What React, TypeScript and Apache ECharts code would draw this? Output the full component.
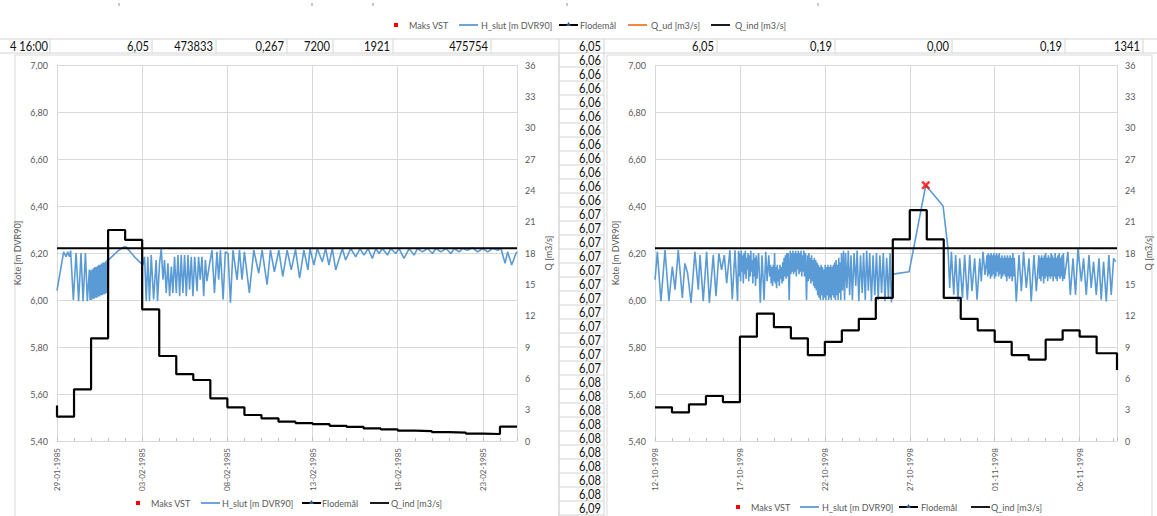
import React, { useEffect, useRef } from "react";
import * as echarts from "echarts";

// ---------- DATA ----------
const LEFT_DATES = ["29-01-1985", "03-02-1985", "08-02-1985", "13-02-1985", "18-02-1985", "23-02-1985"];
const RIGHT_DATES = ["12-10-1998", "17-10-1998", "22-10-1998", "27-10-1998", "01-11-1998", "06-11-1998"];

const FLODEMAAL = 6.22;

// daily Q_ind [m3/s], day 0 = first date
const LEFT_Q_START = 3.4;
const LEFT_Q = [2.33, 4.95, 9.83, 20.2, 19.25, 12.6, 8.14, 6.4, 5.84, 4.09, 3.22, 2.49, 2.17, 1.85, 1.72, 1.62, 1.45, 1.35, 1.2, 1.12, 1.0, 0.95, 0.85, 0.8, 0.7, 0.67, 1.37];
const RIGHT_Q = [3.22, 2.74, 3.51, 4.31, 3.73, 9.99, 12.2, 10.9, 9.83, 8.23, 9.5, 10.6, 11.7, 13.7, 19.3, 22.1, 19.3, 13.7, 11.7, 10.6, 9.5, 8.23, 7.8, 9.7, 10.6, 10.0, 8.4];
const RIGHT_Q_END = [27.2, 6.8];

const RIGHT_MAKS = [[15.94, 6.488]];

// H_slut [m DVR90] as [day, level]
const LEFT_H = [
  [0, 6.04], [0.39, 6.205], [0.53, 6.184], [0.63, 6.205], [0.73, 6.184], [0.8, 6.21], [0.96, 6.0], [1.12, 6.2], [1.27, 5.995], [1.41, 6.2], [1.53, 5.995], [1.67, 6.2], [1.78, 5.995], [1.9, 6.13],
  [1.94, 6.0], [1.98, 6.125], [2.02, 6.0], [2.06, 6.13], [2.1, 6.005], [2.14, 6.135], [2.18, 6.005], [2.22, 6.14], [2.26, 6.01], [2.3, 6.14], [2.34, 6.01], [2.38, 6.145], [2.42, 6.015], [2.46, 6.15], [2.5, 6.015], [2.54, 6.15], [2.58, 6.02], [2.62, 6.155], [2.66, 6.02], [2.7, 6.16], [2.74, 6.025], [2.78, 6.16], [2.82, 6.025], [2.86, 6.165], [2.9, 6.03], [2.94, 6.17], [2.98, 6.035], [3.02, 6.17],
  [3.3, 6.19], [3.6, 6.21], [3.9, 6.225], [4.05, 6.226], [4.3, 6.205], [4.6, 6.18], [4.95, 6.155], [5.05, 6.15],
  [5.14, 6.184], [5.24, 5.995], [5.33, 6.184], [5.43, 5.995], [5.53, 6.191], [5.67, 6.002], [5.82, 6.17], [5.9, 5.995], [6.02, 6.156], [6.12, 6.219], [6.22, 6.086], [6.31, 6.17], [6.41, 6.03], [6.51, 6.156], [6.61, 6.016], [6.71, 6.142], [6.8, 6.03], [6.9, 6.184], [7.0, 6.03], [7.1, 6.191], [7.2, 6.016], [7.29, 6.191], [7.39, 6.03], [7.49, 6.191], [7.59, 6.016], [7.69, 6.191], [7.78, 6.044], [7.88, 6.184], [7.98, 6.016], [8.08, 6.184], [8.22, 6.037], [8.31, 6.184], [8.41, 6.086], [8.51, 6.184], [8.61, 6.016], [8.71, 6.17], [8.8, 6.08], [8.96, 6.156], [9.1, 6.212], [9.24, 6.03], [9.39, 6.205], [9.49, 6.086], [9.59, 6.212], [9.75, 6.002], [9.88, 6.205], [10.04, 6.198], [10.18, 5.988], [10.33, 6.212], [10.57, 6.086], [10.71, 6.212], [10.86, 6.086], [11.0, 6.205], [11.29, 6.03], [11.55, 6.212], [11.84, 6.114], [12.04, 6.212], [12.33, 6.065], [12.53, 6.212], [12.76, 6.12], [13.02, 6.212], [13.25, 6.1], [13.51, 6.212], [13.75, 6.128], [14.0, 6.215], [14.24, 6.093], [14.49, 6.212], [14.73, 6.128],
  [14.85, 6.219], [15.08, 6.149], [15.28, 6.219], [15.57, 6.163], [15.77, 6.219], [15.96, 6.149], [16.16, 6.219], [16.36, 6.128], [16.75, 6.219], [16.94, 6.17], [17.24, 6.219], [17.53, 6.184], [17.79, 6.219], [18.02, 6.191], [18.26, 6.219], [18.51, 6.177], [18.71, 6.219], [18.9, 6.198], [19.1, 6.219], [19.4, 6.191], [19.59, 6.219], [19.88, 6.198], [20.08, 6.219], [20.37, 6.177], [20.67, 6.219], [20.96, 6.191], [21.16, 6.219], [21.45, 6.205], [21.75, 6.219], [22.04, 6.198], [22.24, 6.219], [22.53, 6.205], [22.83, 6.219], [23.12, 6.198], [23.32, 6.219], [23.61, 6.205], [23.81, 6.219], [24.1, 6.212], [24.39, 6.222], [24.69, 6.205], [24.98, 6.219], [25.28, 6.205], [25.57, 6.219], [25.87, 6.212], [26.06, 6.219], [26.3, 6.156], [26.45, 6.205], [26.69, 6.149], [26.94, 6.198], [27.0, 6.205],
];

const RIGHT_H = [
  [0, 6.086], [0.14, 6.205], [0.35, 5.995], [0.59, 6.212], [0.82, 5.995], [1.02, 6.142], [1.18, 6.044], [1.37, 6.212], [1.61, 6.009], [1.76, 6.156], [1.92, 6.114], [2.12, 5.988], [2.35, 6.205], [2.55, 6.044], [2.65, 6.191], [2.84, 5.995], [3.04, 6.205], [3.2, 5.988], [3.43, 6.191], [3.59, 6.016], [3.76, 6.198], [3.92, 6.128], [4.08, 6.191], [4.22, 6.072], [4.41, 6.212], [4.55, 6.002], [4.71, 6.212], [4.86, 5.995],
  [4.92, 6.21], [4.96, 6.1], [5.0, 6.2], [5.04, 6.08], [5.08, 6.21], [5.12, 6.12], [5.16, 6.19], [5.2, 6.07], [5.24, 6.2], [5.28, 6.11], [5.32, 6.21], [5.36, 6.09], [5.4, 6.18], [5.44, 6.13], [5.48, 6.2], [5.52, 6.08], [5.56, 6.19], [5.6, 6.1], [5.64, 6.21], [5.68, 6.12], [5.72, 6.17], [5.76, 6.07], [5.8, 6.2], [5.84, 6.1], [5.88, 6.18], [5.92, 6.06], [5.96, 6.19], [6.0, 6.09],
  [6.1, 6.2], [6.2, 5.988], [6.3, 6.19], [6.42, 6.0], [6.52, 6.205], [6.6, 6.08], [6.7, 6.19],
  [6.76, 6.1], [6.8, 6.15], [6.84, 6.07], [6.88, 6.14], [6.92, 6.06], [6.96, 6.15], [7.0, 6.08], [7.04, 6.2], [7.08, 6.07], [7.12, 6.14], [7.16, 6.05], [7.2, 6.15], [7.24, 6.08], [7.28, 6.13], [7.32, 6.06], [7.36, 6.15], [7.4, 6.09], [7.44, 6.14], [7.48, 6.07], [7.52, 6.16], [7.56, 6.08], [7.6, 6.18],
  [7.64, 6.1], [7.68, 6.19], [7.72, 6.09], [7.76, 6.2], [7.8, 6.1], [7.84, 6.2], [7.9, 6.0], [7.96, 6.21], [8.0, 6.11], [8.04, 6.2], [8.08, 6.12], [8.12, 6.21], [8.16, 6.11], [8.2, 6.2], [8.24, 6.12], [8.28, 6.21], [8.32, 6.1], [8.36, 6.2], [8.4, 6.13], [8.44, 6.21], [8.48, 6.11], [8.52, 6.2], [8.56, 6.12], [8.6, 6.21], [8.64, 6.1], [8.68, 6.19], [8.72, 6.12], [8.76, 6.21], [8.8, 6.1], [8.86, 6.2], [8.92, 6.0], [8.98, 6.19], [9.02, 6.08], [9.06, 6.2], [9.1, 6.09], [9.14, 6.18], [9.18, 6.07], [9.22, 6.19], [9.26, 6.08], [9.3, 6.17], [9.34, 6.06], [9.38, 6.18], [9.42, 6.05], [9.46, 6.17], [9.5, 6.04], [9.54, 6.16],
  [9.58, 6.02], [9.62, 6.15], [9.66, 6.01], [9.7, 6.14], [9.74, 6.0], [9.78, 6.15], [9.82, 6.02], [9.86, 6.14], [9.9, 6.0], [9.94, 6.13], [9.98, 6.01], [10.02, 6.15], [10.06, 6.0], [10.1, 6.14], [10.14, 6.02], [10.18, 6.15], [10.22, 6.0], [10.26, 6.14], [10.3, 6.01], [10.34, 6.15], [10.38, 6.0], [10.42, 6.14], [10.46, 6.02], [10.5, 6.15], [10.54, 6.01], [10.58, 6.16], [10.62, 6.0], [10.66, 6.17], [10.7, 6.02], [10.74, 6.15], [10.78, 6.0], [10.82, 6.18], [10.86, 6.03], [10.9, 6.16], [10.94, 6.0], [10.98, 6.2], [11.04, 6.04], [11.1, 6.21], [11.16, 6.0], [11.22, 6.2], [11.3, 6.05], [11.38, 6.21], [11.46, 6.02], [11.54, 6.19],
  [11.62, 6.0], [11.72, 6.2], [11.82, 6.06], [11.9, 6.21], [12.0, 5.995], [12.1, 6.19], [12.2, 6.03], [12.28, 6.2], [12.38, 6.0], [12.46, 6.21], [12.56, 6.04], [12.64, 6.2], [12.74, 5.995], [12.84, 6.19], [12.94, 6.02], [13.04, 6.2], [13.14, 6.0], [13.24, 6.19], [13.34, 6.03], [13.44, 6.2], [13.54, 5.995], [13.64, 6.18], [13.74, 6.01], [13.84, 6.2], [13.92, 5.99],
  [14.02, 6.11], [14.96, 6.12], [15.94, 6.488], [16.96, 6.4],
  [17.25, 6.22], [17.35, 6.051], [17.45, 6.205], [17.59, 6.022], [17.7, 6.191], [17.84, 5.994], [17.94, 6.177], [18.1, 6.008], [18.23, 6.191], [18.39, 6.001], [18.53, 6.191], [18.66, 6.037], [18.82, 6.177], [18.96, 6.001], [19.12, 6.177], [19.21, 6.079], [19.31, 6.205], [19.43, 6.107], [19.55, 6.191],
  [19.59, 6.1], [19.63, 6.2], [19.67, 6.11], [19.71, 6.19], [19.75, 6.09], [19.79, 6.2], [19.83, 6.1], [19.87, 6.19], [19.91, 6.11], [19.95, 6.2], [19.99, 6.09], [20.03, 6.19], [20.07, 6.1], [20.11, 6.2], [20.15, 6.12], [20.19, 6.19], [20.23, 6.1], [20.27, 6.2], [20.31, 6.11], [20.35, 6.18], [20.39, 6.09], [20.43, 6.19], [20.47, 6.1], [20.51, 6.18], [20.55, 6.11], [20.59, 6.19], [20.63, 6.1], [20.67, 6.18], [20.71, 6.08], [20.75, 6.19], [20.79, 6.1], [20.83, 6.18], [20.87, 6.09], [20.91, 6.19], [20.95, 6.1], [20.99, 6.18], [21.03, 6.08], [21.07, 6.2], [21.11, 6.1], [21.15, 6.18],
  [21.27, 5.994], [21.43, 6.191], [21.57, 6.037], [21.7, 6.205], [21.86, 6.051], [22.02, 6.177], [22.15, 5.994], [22.31, 6.191], [22.45, 6.037],
  [22.6, 6.19], [22.64, 6.09], [22.68, 6.18], [22.72, 6.08], [22.76, 6.19], [22.8, 6.1], [22.84, 6.18], [22.88, 6.07], [22.92, 6.19], [22.96, 6.09], [23.0, 6.2], [23.04, 6.1], [23.08, 6.18], [23.12, 6.08], [23.16, 6.19], [23.2, 6.1], [23.24, 6.18], [23.28, 6.09], [23.32, 6.2], [23.36, 6.1], [23.4, 6.19], [23.44, 6.08], [23.48, 6.18], [23.52, 6.1], [23.56, 6.2], [23.6, 6.09], [23.64, 6.18], [23.68, 6.08], [23.72, 6.19], [23.76, 6.1], [23.8, 6.2], [23.84, 6.09], [23.88, 6.18], [23.92, 6.1], [23.96, 6.19], [24.0, 6.08], [24.04, 6.2], [24.1, 6.09],
  [24.31, 6.205], [24.45, 6.022], [24.61, 6.177], [24.76, 6.022], [24.9, 6.219], [25.1, 6.079], [25.23, 6.177], [25.39, 6.022], [25.55, 6.191], [25.68, 6.051], [25.82, 6.163], [25.98, 6.022], [26.14, 6.177], [26.27, 6.001], [26.41, 6.163], [26.57, 5.994], [26.72, 6.191], [26.86, 6.022], [27.0, 6.177], [27.12, 6.163],
];

// spreadsheet texts
const TOP_ROW_VALUES = ["4 16:00", "6,05", "473833", "0,267", "7200", "1921", "475754", "6,05", "6,05", "0,19", "0,00", "0,19", "1341"];
const MID_COLUMN_VALUES = [
  "6,06", "6,06", "6,06", "6,06", "6,06", "6,06", "6,06", "6,06", "6,06", "6,06", "6,06",
  "6,07", "6,07", "6,07", "6,07", "6,07", "6,07", "6,07", "6,07", "6,07", "6,07", "6,07", "6,07",
  "6,08", "6,08", "6,08", "6,08", "6,08", "6,08", "6,08", "6,08", "6,08",
  "6,09",
];

// ---------- LAYOUT ----------
const TOP_ROW_RIGHT = [48, 149, 213, 284, 330, 390, 488, 601, 714, 832, 949, 1062, 1140];
const TOP_ROW_BORDERS = [50, 152, 216, 287, 333, 393, 491, 559, 604, 717, 835, 952, 1065, 1143];
const ROW_PITCH = 14;

const BLUE = "#5B9BD5";
const ORANGE = "#ED7D31";
const GRID = "#d9d9d9";
const LABEL = "#595959";
const FONT = "Lato, 'Open Sans', sans-serif";
const CELL_FONT = "13px Lato, 'Liberation Sans', sans-serif";

const X_MARK = "path://M2,0 L5,3 L8,0 L10,2 L7,5 L10,8 L8,10 L5,7 L2,10 L0,8 L3,5 L0,2 Z";

function stepData(q: number[], start: number | null, end: number[] | null) {
  const d: number[][] = [];
  if (start !== null) d.push([0, start]);
  q.forEach((v, i) => d.push([i, v]));
  if (end) {
    d.push([end[0] - 0.05, q[q.length - 1]]);
    d.push(end);
  } else d.push([q.length, q[q.length - 1]]);
  return d;
}

function cellText(text: string, right: number, y: number) {
  return {
    type: "text", x: right, y, scaleX: 0.86,
    style: { text, x: 0, y: 0, fill: "#111", font: CELL_FONT, align: "right", verticalAlign: "middle" },
  };
}

function legend(y: number, items: any[]) {
  const els: any[] = [];
  items.forEach((it) => {
    if (it.kind === "sq") {
      els.push({ type: "rect", shape: { x: it.x - 2, y: y - 2, width: 4, height: 4 }, style: { fill: "#ff0000" } });
    } else {
      els.push({ type: "line", shape: { x1: it.x, y1: y, x2: it.x + 19, y2: y }, style: { stroke: it.color, lineWidth: it.kind === "flod" ? 2 : 1.8 } });
      if (it.kind === "flod") {
        els.push({ type: "polygon", shape: { points: [[it.x + 7, y + 1], [it.x + 9.5, y - 3], [it.x + 12, y + 1]] }, style: { fill: "#2f5597" } });
      }
    }
    els.push({ type: "text", style: { text: it.text, x: it.tx, y, fill: LABEL, font: `9px ${FONT}`, align: "left", verticalAlign: "middle" } });
  });
  return els;
}

function xAxis(gridIndex: number, max: number, dates: string[]) {
  return {
    type: "value", gridIndex, min: 0, max, interval: 5,
    axisLine: { show: true, lineStyle: { color: GRID } },
    axisTick: { show: true, inside: true, length: 4, lineStyle: { color: "#bfbfbf" } },
    minorTick: { show: true, splitNumber: 5, length: 3, lineStyle: { color: "#bfbfbf" } },
    splitLine: { show: true, lineStyle: { color: GRID, width: 1 } },
    axisLabel: {
      rotate: 90, fontSize: 8, color: LABEL, fontFamily: FONT, margin: 7,
      formatter: (v: number) => {
        const i = Math.round(v / 5);
        return Math.abs(v - i * 5) < 1e-6 && dates[i] ? dates[i] : "";
      },
    },
  };
}

function yAxes(gridIndex: number) {
  return [
    {
      type: "value", gridIndex, min: 5.4, max: 7.0, interval: 0.2, position: "left",
      name: "Kote [m DVR90]", nameLocation: "middle", nameGap: 35, nameRotate: 90,
      nameTextStyle: { fontSize: 9, color: LABEL, fontFamily: FONT },
      axisLine: { show: false }, axisTick: { show: false },
      splitLine: { show: true, lineStyle: { color: GRID } },
      axisLabel: { fontSize: 9, color: LABEL, fontFamily: FONT, margin: 9, formatter: (v: number) => v.toFixed(2).replace(".", ",") },
    },
    {
      type: "value", gridIndex, min: 0, max: 36, interval: 3, position: "right",
      name: "Q [m3/s]", nameLocation: "middle", nameGap: 27, nameRotate: 90,
      nameTextStyle: { fontSize: 9, color: LABEL, fontFamily: FONT },
      axisLine: { show: false }, axisTick: { show: false }, splitLine: { show: false },
      axisLabel: { fontSize: 9, color: LABEL, fontFamily: FONT, margin: 8 },
    },
  ];
}

function buildGraphic() {
  const g: any[] = [];
  // chart frames
  g.push({ type: "rect", z: -10, shape: { x: 15, y: 55, width: 544, height: 480 }, style: { fill: "#fff", stroke: GRID, lineWidth: 1 } });
  g.push({ type: "rect", z: -10, shape: { x: 607, y: 55, width: 545, height: 480 }, style: { fill: "#fff", stroke: GRID, lineWidth: 1 } });
  // top row
  g.push({ type: "line", z: -5, shape: { x1: 0, y1: 39, x2: 1157, y2: 39 }, style: { stroke: "#d4d4d4", lineWidth: 1 } });
  g.push({ type: "line", z: -5, shape: { x1: 0, y1: 53, x2: 1157, y2: 53 }, style: { stroke: "#d4d4d4", lineWidth: 1 } });
  TOP_ROW_BORDERS.forEach((x) => g.push({ type: "line", z: -5, shape: { x1: x, y1: 39, x2: x, y2: 53 }, style: { stroke: "#d4d4d4", lineWidth: 1 } }));
  TOP_ROW_VALUES.forEach((t, i) => g.push(cellText(t, TOP_ROW_RIGHT[i], 46.5)));
  // middle column
  g.push({ type: "line", z: -5, shape: { x1: 559, y1: 53, x2: 559, y2: 516 }, style: { stroke: "#d4d4d4", lineWidth: 1 } });
  g.push({ type: "line", z: -5, shape: { x1: 604, y1: 53, x2: 604, y2: 516 }, style: { stroke: "#d4d4d4", lineWidth: 1 } });
  MID_COLUMN_VALUES.forEach((t, i) => {
    const top = 53 + i * ROW_PITCH;
    g.push({ type: "line", z: -5, shape: { x1: 559, y1: top + ROW_PITCH, x2: 604, y2: top + ROW_PITCH }, style: { stroke: "#d4d4d4", lineWidth: 1 } });
    g.push(cellText(t, 601, top + 7.5));
  });
  // small cut-off marks at very top
  [118, 311, 372, 566, 817].forEach((x) => g.push({ type: "rect", shape: { x, y: 3, width: 2, height: 3 }, style: { fill: "#c8c8c8" } }));
  // legends
  g.push(...legend(25, [
    { kind: "sq", x: 396, text: "Maks VST", tx: 409 },
    { kind: "line", x: 459, color: BLUE, text: "H_slut [m DVR90]", tx: 481 },
    { kind: "flod", x: 559, color: "#000", text: "Flodemål", tx: 580 },
    { kind: "line", x: 628, color: ORANGE, text: "Q_ud [m3/s]", tx: 651 },
    { kind: "line", x: 711, color: "#000", text: "Q_ind [m3/s]", tx: 735 },
  ]));
  g.push(...legend(503, [
    { kind: "sq", x: 138, text: "Maks VST", tx: 151 },
    { kind: "line", x: 201, color: BLUE, text: "H_slut [m DVR90]", tx: 222 },
    { kind: "flod", x: 302, color: "#000", text: "Flodemål", tx: 322 },
    { kind: "line", x: 370, color: "#000", text: "Q_ind [m3/s]", tx: 391 },
  ]));
  g.push(...legend(507, [
    { kind: "sq", x: 738, text: "Maks VST", tx: 751 },
    { kind: "line", x: 800, color: BLUE, text: "H_slut [m DVR90]", tx: 822 },
    { kind: "flod", x: 899, color: "#000", text: "Flodemål", tx: 921 },
    { kind: "line", x: 971, color: "#000", text: "Q_ind [m3/s]", tx: 991 },
  ]));
  return g;
}

export default function App() {
  const ref = useRef<HTMLDivElement>(null);
  useEffect(() => {
    if (!ref.current) return;
    const chart = echarts.init(ref.current, null, { renderer: "svg" });
    const lineBase = { type: "line", symbol: "none", showSymbol: false };
    chart.setOption({
      animation: false,
      backgroundColor: "#ffffff",
      textStyle: { fontFamily: FONT },
      graphic: { elements: buildGraphic() },
      grid: [
        { left: 57, top: 65, width: 460, height: 376 },
        { left: 655, top: 65, width: 462, height: 376 },
      ],
      xAxis: [xAxis(0, 27, LEFT_DATES), xAxis(1, 27.2, RIGHT_DATES)],
      yAxis: [...yAxes(0), ...yAxes(1)],
      series: [
        { ...lineBase, name: "H_slut [m DVR90]", xAxisIndex: 0, yAxisIndex: 0, data: LEFT_H, lineStyle: { color: BLUE, width: 1.6 }, z: 3 },
        { ...lineBase, name: "Flodemål", xAxisIndex: 0, yAxisIndex: 0, data: [[0, FLODEMAAL], [27, FLODEMAAL]], lineStyle: { color: "#000", width: 2 }, z: 4 },
        { ...lineBase, name: "Q_ind [m3/s]", xAxisIndex: 0, yAxisIndex: 1, step: "end", data: stepData(LEFT_Q, LEFT_Q_START, null), lineStyle: { color: "#000", width: 2.2 }, z: 5 },
        { ...lineBase, name: "H_slut [m DVR90]", xAxisIndex: 1, yAxisIndex: 2, data: RIGHT_H, lineStyle: { color: BLUE, width: 1.6 }, z: 3 },
        { ...lineBase, name: "Flodemål", xAxisIndex: 1, yAxisIndex: 2, data: [[0, FLODEMAAL], [27.2, FLODEMAAL]], lineStyle: { color: "#000", width: 2 }, z: 4 },
        { ...lineBase, name: "Q_ind [m3/s]", xAxisIndex: 1, yAxisIndex: 3, step: "end", data: stepData(RIGHT_Q, null, RIGHT_Q_END), lineStyle: { color: "#000", width: 2.2 }, z: 5 },
        { type: "scatter", name: "Maks VST", xAxisIndex: 1, yAxisIndex: 2, data: RIGHT_MAKS, symbol: X_MARK, symbolSize: 9, itemStyle: { color: "#ff0000" }, z: 6 },
      ],
    });
    return () => chart.dispose();
  }, []);
  return <div ref={ref} style={{ position: "absolute", left: 0, top: 0, width: 1157, height: 516 }} />;
}
